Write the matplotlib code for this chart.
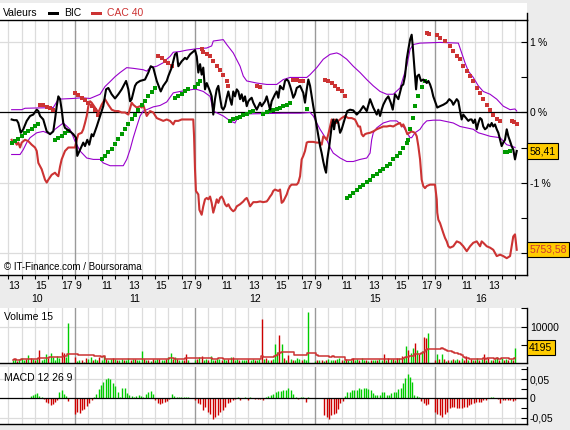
import numpy as np
import matplotlib
matplotlib.use("Agg")
import matplotlib.pyplot as plt
import matplotlib.transforms as mtrans
from matplotlib.patches import Rectangle
from matplotlib.lines import Line2D

plt.rcParams['font.family'] = ['Liberation Sans', 'DejaVu Sans']

# ---------------- data ----------------
# time axis unit: hours; t = day_index*9 + (hour - 9)
day_names = ["10", "11", "12", "15", "16"]

bic_points = [(4.25,-0.10),(4.43,-0.11),(4.63,-0.11),(4.75,-0.15),(4.93,-0.29),(5.12,-0.24),(5.38,-0.12),(5.63,-0.05),(5.87,-0.03),(6.13,0.04),
 (6.25,0.02),(6.38,-0.05),(6.62,-0.10),(6.88,-0.27),(7.13,-0.31),(7.37,-0.27),(7.5,-0.10),(7.63,0.09),(7.75,0.23),(7.88,0.19),
 (8.0,0.04),(8.12,-0.15),(8.25,-0.22),(8.63,-0.27),(8.87,-0.31),(9.07,-0.36),(9.17,-0.62),(9.38,-0.53),(9.5,-0.48),(9.62,-0.43),
 (9.75,-0.48),(9.92,-0.39),(10.07,-0.46),(10.25,-0.31),(10.37,-0.34),(10.63,-0.20),(10.88,-0.05),(11.12,0.09),(11.33,0.33),(11.5,0.35),
 (11.75,0.26),(12.0,0.20),(12.25,0.26),(12.5,0.33),(12.83,0.45),(13.0,0.33),(13.13,0.16),(13.25,0.19),(13.37,0.28),(13.5,0.38),
 (13.63,0.42),(13.88,0.45),(14.25,0.47),(14.5,0.57),(14.68,0.66),(14.87,0.64),(15.13,0.45),(15.43,0.30),(15.62,0.38),(15.88,0.45),
 (16.0,0.52),(16.25,0.64),(16.5,0.83),(16.63,0.85),(16.75,0.66),(17.0,0.73),(17.25,0.78),(17.38,0.76),(17.63,0.83),(18.0,0.89),
 (18.13,0.80),(18.25,0.57),(18.38,0.69),(18.5,0.54),(18.62,0.64),(18.75,0.33),(18.88,0.42),(19.13,0.30),(19.25,0.23),(19.37,-0.03),
 (19.5,0.19),(19.63,0.33),(19.75,0.38),(19.88,0.21),(20.0,0.07),(20.12,0.04),(20.25,0.09),(20.38,0.21),(20.5,0.30),(20.63,0.19),
 (20.75,0.11),(20.87,0.30),(21.0,0.23),(21.13,0.33),(21.25,0.30),(21.38,0.19),(21.5,0.26),(21.62,0.16),(21.75,0.23),(21.88,0.09),
 (22.0,0.16),(22.13,0.19),(22.25,0.21),(22.37,0.14),(22.63,0.04),(22.88,0.14),(23.0,0.09),(23.25,0.16),(23.38,0.23),(23.5,0.14),
 (23.63,0.04),(23.75,0.16),(24.0,0.26),(24.13,0.30),(24.25,0.21),(24.38,0.38),(24.5,0.35),(24.62,0.33),(24.75,0.45),(24.88,0.47),
 (25.0,0.45),(25.13,0.38),(25.25,0.30),(25.37,0.21),(25.5,0.26),(25.63,0.35),(25.88,0.38),(26.12,0.28),(26.25,0.14),(26.38,0.33),
 (26.5,0.47),(26.63,0.38),(26.75,0.23),(26.87,0.09),(27.0,-0.05),(27.13,-0.20),(27.25,-0.34),(27.38,-0.48),(27.5,-0.58),(27.62,-0.70),
 (27.75,-0.81),(27.83,-0.86),(27.92,-0.67),(28.07,-0.48),(28.25,-0.20),(28.37,-0.10),(28.43,-0.24),(28.5,-0.15),(28.63,-0.10),(28.75,-0.15),
 (28.88,-0.29),(29.0,-0.24),(29.25,-0.08),(29.42,0.02),(29.63,0.04),(29.87,0.03),(30.13,-0.03),(30.38,0.02),(30.62,0.09),(30.88,0.02),
 (31.13,0.19),(31.37,0.07),(31.63,-0.03),(31.75,0.04),(31.88,-0.05),(32.0,0.04),(32.12,0.11),(32.33,0.19),(32.5,0.23),(32.68,0.14),
 (32.83,0.04),(33.0,0.26),(33.25,0.19),(33.5,0.38),(33.62,0.40),(33.75,0.52),(33.88,0.76),(34.0,0.90),(34.13,1.04),(34.25,1.11),
 (34.33,0.95),(34.45,0.66),(34.58,0.33),(34.67,0.52),(34.8,0.54),(34.95,0.45),(35.12,0.47),(35.25,0.45),(35.38,0.42),(35.5,0.45),
 (35.63,0.40),(35.75,0.33),(35.87,0.23),(36.0,0.16),(36.17,0.07),(36.38,0.09),(36.62,0.11),(36.88,0.14),(37.07,0.19),(37.25,0.16),
 (37.37,0.11),(37.63,0.19),(37.75,0.16),(37.88,0.02),(38.0,-0.10),(38.12,-0.03),(38.33,-0.08),(38.5,-0.12),(38.63,-0.10),(38.75,-0.10),
 (38.87,-0.15),(39.0,-0.10),(39.13,-0.24),(39.25,-0.15),(39.38,-0.08),(39.5,-0.10),(39.62,-0.20),(39.75,-0.24),(39.88,-0.22),(40.0,-0.17),
 (40.13,-0.20),(40.25,-0.15),(40.37,-0.20),(40.5,-0.17),(40.63,-0.24),(40.75,-0.29),(40.88,-0.39),(41.0,-0.48),(41.12,-0.43),(41.25,-0.39),
 (41.38,-0.24),(41.5,-0.34),(41.63,-0.41),(41.75,-0.48),(41.87,-0.53),(42.0,-0.67),(42.13,-0.55)]

cac_points = [(4.25,-0.39),(4.37,-0.43),(4.5,-0.41),(4.63,-0.46),(4.75,-0.43),(4.88,-0.50),(5.0,-0.43),(5.25,-0.39),(5.5,-0.41),(5.75,-0.46),
 (6.0,-0.50),(6.13,-0.55),(6.25,-0.72),(6.5,-0.81),(6.75,-0.96),(6.88,-1.00),(7.0,-0.96),(7.25,-0.89),(7.5,-0.86),(7.63,-0.89),
 (7.75,-0.91),(7.88,-0.77),(8.0,-0.67),(8.25,-0.55),(8.5,-0.50),(9.0,-0.50),(9.13,-0.39),(9.25,-0.31),(9.5,-0.29),(9.62,-0.24),
 (9.75,-0.15),(9.88,-0.05),(10.0,0.09),(10.13,0.16),(10.25,0.14),(10.5,0.07),(10.75,0.00),(11.0,0.11),(11.25,0.19),(11.5,0.11),
 (11.75,0.04),(12.0,0.02),(12.25,0.02),(12.5,0.00),(12.75,0.00),(13.0,-0.03),(13.25,0.14),(13.37,0.11),(13.63,0.07),(13.88,0.09),
 (14.0,0.07),(14.12,0.11),(14.38,-0.05),(14.63,0.02),(14.87,0.00),(15.13,-0.08),(15.38,-0.10),(15.62,-0.12),(15.88,-0.10),(16.13,-0.12),
 (16.37,-0.17),(16.5,-0.12),(16.75,-0.12),(17.0,-0.10),(17.5,-0.10),(17.87,-0.10),(17.93,-0.34),(18.0,-0.81),(18.07,-1.12),(18.25,-1.17),
 (18.33,-1.39),(18.5,-1.46),(18.62,-1.34),(18.75,-1.24),(18.88,-1.22),(19.0,-1.24),(19.13,-1.20),(19.25,-1.29),(19.37,-1.43),(19.5,-1.34),
 (19.63,-1.24),(19.75,-1.29),(19.88,-1.22),(20.0,-1.20),(20.12,-1.24),(20.25,-1.31),(20.38,-1.34),(20.5,-1.31),(20.63,-1.36),(20.75,-1.39),
 (20.87,-1.41),(21.0,-1.39),(21.13,-1.34),(21.38,-1.31),(21.62,-1.27),(21.75,-1.24),(21.88,-1.22),(22.0,-1.27),(22.13,-1.34),(22.25,-1.31),
 (22.37,-1.28),(22.63,-1.28),(22.88,-1.27),(23.12,-1.28),(23.38,-1.27),(23.5,-1.24),(23.63,-1.20),(23.75,-1.17),(23.87,-1.12),(24.0,-1.10),
 (24.25,-1.12),(24.38,-1.10),(24.5,-1.29),(24.62,-1.27),(24.75,-1.22),(24.88,-1.17),(25.0,-1.10),(25.13,-1.05),(25.25,-1.03),(25.63,-1.03),
 (25.75,-1.00),(25.88,-0.91),(26.0,-0.67),(26.12,-0.62),(26.25,-0.55),(26.38,-0.43),(26.5,-0.42),(26.87,-0.42),(27.13,-0.43),(27.38,-0.43),
 (27.5,-0.46),(27.62,-0.34),(27.75,-0.36),(27.88,-0.39),(28.0,-0.31),(28.13,-0.20),(28.25,-0.10),(28.37,-0.15),(28.5,-0.10),(28.63,-0.15),
 (28.75,-0.12),(28.88,-0.10),(29.0,-0.08),(29.25,-0.05),(29.5,-0.08),(29.75,-0.08),(30.0,-0.10),(30.13,-0.15),(30.25,-0.20),(30.38,-0.20),
 (30.5,-0.31),(30.62,-0.34),(30.75,-0.31),(30.88,-0.30),(31.13,-0.29),(31.37,-0.27),(31.63,-0.24),(31.88,-0.22),(32.12,-0.20),(32.38,-0.20),
 (32.63,-0.19),(32.87,-0.20),(33.13,-0.17),(33.38,-0.15),(33.5,-0.20),(33.62,-0.17),(33.75,-0.22),(33.92,-0.31),(34.07,-0.29),(34.25,-0.27),
 (34.5,-0.29),(34.63,-0.34),(34.75,-0.48),(34.88,-0.67),(35.0,-0.96),(35.12,-1.05),(35.25,-1.08),(35.38,-1.05),(35.63,-1.03),(36.0,-1.03),
 (36.13,-1.24),(36.17,-1.43),(36.25,-1.53),(36.38,-1.58),(36.5,-1.65),(36.62,-1.72),(36.75,-1.79),(36.88,-1.84),(37.0,-1.91),(37.13,-1.93),
 (37.37,-1.91),(37.63,-1.84),(37.88,-1.86),(38.12,-1.91),(38.38,-1.98),(38.63,-1.91),(38.87,-1.86),(39.13,-1.84),(39.38,-1.91),(39.5,-1.84),
 (39.62,-1.86),(39.88,-1.91),(40.13,-1.93),(40.37,-1.96),(40.63,-2.05),(40.88,-2.03),(41.12,-2.05),(41.38,-2.08),(41.63,-2.05),(41.75,-1.91),
 (41.87,-1.77),(42.0,-1.74),(42.13,-1.96)]

band_upper = [(4.25,0.04),(5.0,0.04),(5.25,0.06),(7.37,0.07),(7.75,0.19),(8.87,0.20),(9.5,0.21),(10.13,0.20),(10.88,0.26),(11.25,0.37),
 (11.63,0.44),(12.0,0.51),(12.38,0.57),(12.88,0.64),(13.37,0.63),(14.12,0.61),(14.38,0.59),(14.63,0.64),(15.13,0.66),(15.62,0.71),
 (15.88,0.76),(16.13,0.80),(16.37,0.86),(16.88,0.87),(17.38,0.89),(18.13,0.91),(18.88,0.92),(19.25,0.95),(19.37,1.02),(19.75,1.03),
 (20.12,1.04),(20.38,0.97),(20.87,0.85),(21.38,0.66),(21.62,0.52),(21.88,0.45),(22.63,0.42),(23.38,0.40),(24.13,0.40),(24.62,0.47),
 (25.13,0.50),(26.38,0.50),(26.63,0.54),(27.13,0.64),(27.62,0.76),(28.13,0.83),(28.63,0.85),(28.88,0.83),(29.38,0.76),(29.87,0.66),
 (30.38,0.57),(30.88,0.47),(31.37,0.38),(31.88,0.30),(32.38,0.26),(32.87,0.26),(33.38,0.35),(33.88,0.66),(34.13,0.90),(34.37,0.97),
 (34.88,0.99),(36.38,1.00),(37.75,0.99),(38.0,0.85),(38.25,0.71),(38.5,0.59),(38.87,0.50),(39.25,0.38),(39.62,0.30),(40.13,0.26),
 (40.63,0.19),(41.12,0.09),(41.63,0.04),(42.0,0.05),(42.13,0.02)]

band_lower = [(4.25,-0.60),(4.88,-0.60),(5.12,-0.53),(5.38,-0.43),(5.63,-0.36),(6.13,-0.29),(6.62,-0.27),(7.13,-0.31),(7.5,-0.24),(8.12,-0.15),
 (8.63,-0.24),(9.0,-0.41),(9.38,-0.55),(9.88,-0.65),(10.37,-0.67),(10.88,-0.67),(11.12,-0.72),(11.63,-0.76),(12.62,-0.76),(12.88,-0.67),
 (13.13,-0.53),(13.37,-0.36),(13.63,-0.20),(13.88,-0.05),(14.12,0.02),(14.38,0.04),(14.87,0.08),(15.38,0.10),(15.88,0.15),(16.37,0.28),
 (16.88,0.30),(17.87,0.33),(18.13,0.33),(18.62,0.30),(19.13,0.23),(19.37,0.02),(20.12,-0.05),(20.63,-0.12),(21.0,-0.15),(21.13,-0.10),
 (21.62,-0.03),(22.13,-0.02),(24.62,-0.01),(25.88,-0.01),(26.63,0.00),(26.87,-0.05),(27.13,-0.15),(27.38,-0.24),(27.88,-0.39),(28.13,-0.50),
 (28.37,-0.58),(28.88,-0.65),(29.38,-0.70),(29.87,-0.70),(30.38,-0.67),(30.88,-0.65),(31.13,-0.58),(31.25,-0.39),(31.37,-0.29),(31.63,-0.22),
 (32.12,-0.15),(32.63,-0.12),(33.13,-0.12),(33.62,-0.20),(34.13,-0.36),(34.25,-0.36),(34.5,-0.29),(34.88,-0.24),(35.12,-0.17),(35.38,-0.12),
 (35.87,-0.11),(36.38,-0.11),(37.37,-0.15),(37.88,-0.20),(38.38,-0.22),(38.87,-0.24),(39.25,-0.29),(39.62,-0.31),(40.13,-0.34),(40.88,-0.36),
 (41.38,-0.46),(41.75,-0.48),(42.0,-0.50)]

sar_up = [(4.25,-0.44),(4.5,-0.41),(4.75,-0.38),(5.0,-0.34),(5.25,-0.30),(5.5,-0.27),(5.75,-0.24),(6.0,-0.20),(6.25,-0.16),
 (7.5,-0.39),(7.75,-0.36),(8.0,-0.33),(8.25,-0.29),(8.5,-0.27),
 (11.0,-0.66),(11.25,-0.62),(11.5,-0.57),(11.75,-0.52),(12.0,-0.45),(12.25,-0.38),(12.5,-0.31),(12.75,-0.24),(13.0,-0.16),
 (13.25,-0.09),(13.5,-0.03),(13.75,0.04),(14.0,0.10),(14.25,0.16),(14.5,0.23),(14.75,0.29),(15.0,0.35),
 (16.5,0.21),(16.75,0.24),(17.0,0.27),(17.25,0.30),(17.5,0.33),(18.0,0.37),(18.25,0.41),(18.38,0.45),
 (20.63,-0.12),(20.88,-0.10),(21.13,-0.08),(21.38,-0.06),(21.63,-0.04),(21.88,-0.02),(22.13,0.00),(22.38,0.02),
 (23.13,-0.02),(23.38,0.00),(23.63,0.02),(23.88,0.04),(24.13,0.05),(24.38,0.07),(24.63,0.09),(24.88,0.11),(25.13,0.14),
 (26.38,0.05),
 (29.38,-1.22),(29.63,-1.19),(29.88,-1.15),(30.13,-1.11),(30.38,-1.07),(30.63,-1.03),(30.88,-0.99),(31.13,-0.96),(31.38,-0.91),
 (31.63,-0.88),(31.88,-0.84),(32.13,-0.81),(32.38,-0.77),(32.63,-0.73),(32.88,-0.67),(33.13,-0.62),(33.38,-0.58),(33.63,-0.50),
 (33.88,-0.43),(34.0,-0.39),(34.13,-0.24),(34.37,-0.08),(34.5,0.09),(34.75,0.23),(35.05,0.36),(35.25,0.45),
 (41.25,-0.57),(41.43,-0.56),(41.63,-0.55)]

sar_down = [(6.38,0.11),(6.63,0.10),(6.88,0.08),(7.13,0.07),(7.38,0.04),
 (9.0,0.28),(9.25,0.25),(9.5,0.21),(9.75,0.18),(10.0,0.14),(10.25,0.09),(10.5,0.04),(10.75,-0.03),
 (15.25,0.81),(15.5,0.78),(15.75,0.74),(16.0,0.71),(16.25,0.66),
 (18.5,0.90),(18.63,0.87),(18.88,0.84),(19.13,0.80),(19.38,0.73),(19.63,0.66),(19.88,0.61),(20.13,0.54),(20.38,0.45),(20.5,0.38),
 (22.63,0.38),(22.88,0.36),
 (25.38,0.47),(25.63,0.46),(25.88,0.45),(26.13,0.45),
 (27.75,0.47),(28.0,0.45),(28.25,0.42),(28.5,0.38),(28.75,0.34),(29.0,0.30),(29.25,0.23),
 (35.38,1.14),(35.57,1.12),
 (36.13,1.10),(36.38,1.07),(36.75,1.02),(37.13,0.95),(37.37,0.88),(37.63,0.80),(37.88,0.76),(38.12,0.66),(38.38,0.59),
 (38.63,0.52),(38.87,0.45),(39.13,0.35),(39.38,0.28),(39.62,0.19),(39.88,0.11),(40.13,0.04),(40.37,-0.03),(40.63,-0.10),(40.88,-0.12),
 (41.75,-0.12),(41.93,-0.14),(42.13,-0.17)]

# volume bars per day (10-minute bars), colours g = up, r = down
vol_d10 = [900,1200,600,1100,1500,800,1000,2100,1500,1000,900,1200,3500,900,1000,2400,1400,2800,1700,900,1900,1300,3100,2800,1600,11100]
col_d10 = "ggrgggrgrgrgrgggrgggggrrgg"
vol_d11 = [1700,600,700,900,300,1500,1200,1700,900,1200,700,1700,900,1800,1200,900,1000,1500,1200,900,
           700,1200,900,930,1500,700,1100,1200,900,930,3200,1200,900,930,560,1200,930,1000,1200,930,
           740,1200,1700,2800,1200,1700,1200,930,930,740,2400,930]
col_d11 = "rggrgrggrggrggrggrgrggrggrgrgggrgrgrggrggrggrgrggrrg"
vol_d12 = [740,1200,1670,1850,930,1200,930,1850,930,930,1200,1200,930,1200,740,1200,1670,1670,930,1200,
           740,930,930,740,1200,740,1200,740,930,1200,12100,1200,1480,930,930,1200,5190,3060,7690,5090,
           1480,930,2130,1200,930,740,1390,1200,930,1200,740,14000]
col_d12 = "grgrggrggrggrggrgrggrgggrggrggrgrgrgggrgrgrgrgggrggg"
vol_d15 = [600,800,700,900,600,930,1200,740,930,740,1000,1480,740,930,1200,740,930,1480,930,1200,
           930,1480,930,740,560,930,740,930,740,1200,930,2410,930,1480,1200,1200,930,1480,1480,1850,
           1480,4630,3700,2780,4170,5560,3520,2590,3330,7220,6950,8330]
col_d15 = "grgrgrgggrggrgrggrggrggrgrggrggrgrgrgrgrggrggrgrgrrg"
vol_d16 = [740,2590,1200,2590,1200,560,740,930,1200,930,1200,930,1480,930,1850,930,1200,930,930,1480,
           930,1200,2590,930,1480,930,930,1200,1670,930,1480,930,1200,930,1200,930,4195]
col_d16 = "rgrgrgrgrggrgrrgrgrgrgrgrgrggrgrgrgrg"

# MACD histogram per day
macd_d10 = [0,0,0,0,0,0,0,0,0.006,0.009,0.011,0.013,0.007,0.003,-0.002,-0.009,-0.013,-0.016,-0.015,-0.009,
            -0.004,0.017,0.022,0.011,0.005,-0.006]
macd_d11 = [-0.039,-0.034,-0.037,-0.030,-0.028,-0.020,-0.011,-0.004,0.003,0.011,0.023,0.034,0.043,0.049,0.052,0.049,
            0.041,0.032,0.017,0.004,0.026,0.028,0.013,0.009,0.006,0.004,0.007,0.009,0.006,0.004,0.011,0.017,0.019,
            0.011,-0.003,-0.013,-0.015,-0.013,-0.009,-0.006,-0.002,0.011,0.006,0.004,0.004,0.004,0.004,0.003,0.004]
macd_d12 = [-0.004,-0.011,-0.015,-0.030,-0.022,-0.034,-0.039,-0.052,-0.047,-0.043,-0.034,-0.030,-0.022,-0.013,-0.009,
            -0.003,-0.002,0.003,-0.003,0.000,0.003,-0.003,0.003,0.002,-0.001,-0.002,-0.002,-0.003,0.004,0.006,0.009,
            0.011,0.017,0.019,0.020,0.022,0.022,0.026,0.022,0.011,0.003,-0.002,0.003,0.003,-0.009,0.003]
macd_d15 = [0,0,0,0,-0.043,-0.049,-0.054,-0.043,-0.039,-0.037,-0.028,-0.013,-0.006,0.006,0.017,0.017,0.022,0.022,
            0.022,0.026,0.023,0.026,0.026,0.023,0.022,0.013,0.009,0.009,0.009,0.017,0.017,0.009,0.009,0.013,0.017,
            0.017,0.023,0.028,0.041,0.052,0.063,0.054,0.043,0.009,0.007,0.004,-0.006,-0.013,-0.017,-0.015]
macd_d16 = [-0.034,-0.039,-0.043,-0.047,-0.039,-0.034,-0.026,-0.022,-0.022,-0.026,-0.026,-0.026,-0.022,-0.022,
            -0.017,-0.015,-0.013,-0.009,-0.009,-0.010,-0.003,-0.004,0.000,0.004,0.004,0.000,-0.002,-0.011,-0.003,
            -0.003,-0.003,-0.003,-0.006,-0.003]

# trading session (start hour, end hour) for each day's bars
day_sessions = [(13 + 20/60, 17.5), (9, 17.5), (9, 17.5), (9, 17.5), (9, 15.0)]

last_bic_label = "58,41"
last_cac_label = "5753,58"
last_vol_label = "4195"

# ---------------- layout ----------------
W, H = 570, 430
BG = '#ececec'
GRID = '#dcdcdc'
SEP = '#9a9a9a'
RED = '#cc3333'
PURPLE = '#9900cc'
GREEN_SAR = '#009900'
VGREEN = '#00cc00'
VRED = '#cc0000'
BOX = '#ffcc00'
FS = 7.5

XMIN, XMAX = 3.375, 42.9

fig = plt.figure(figsize=(W / 100, H / 100), dpi=100, facecolor=BG)

def fx(px):
    return px / W

def fy(py):
    return 1 - py / H

RIGHT = 527
ax = fig.add_axes([0, fy(275), fx(RIGHT), (275 - 20) / H])
axv = fig.add_axes([0, fy(363), fx(RIGHT), (363 - 308) / H])
axm = fig.add_axes([0, fy(424), fx(RIGHT), (424 - 367) / H])

# header white strip and spine stub
fig.add_artist(Rectangle((0, fy(20)), fx(RIGHT), (20 - 3) / H, transform=fig.transFigure,
                         facecolor='white', edgecolor='none', zorder=-1))
fig.add_artist(Line2D([fx(RIGHT) - 0.5 / W, fx(RIGHT) - 0.5 / W], [fy(13), fy(20)], transform=fig.transFigure,
                      color='black', lw=1.0))

hour_ticks = []
hour_vals = []
for d in range(len(day_names)):
    for h in range(9, 18):
        t = d * 9 + (h - 9)
        if XMIN <= t <= XMAX:
            hour_ticks.append(t)
            hour_vals.append(h)
separators = [d * 9 for d in range(1, len(day_names))]

for a in (ax, axv, axm):
    a.set_facecolor('white')
    a.set_xlim(XMIN, XMAX)
    for t in hour_ticks:
        if t in separators:
            a.axvline(t, color=SEP, lw=1.0, zorder=0.5)
        else:
            a.axvline(t, color=GRID, lw=0.9, zorder=0.3)
    a.spines['left'].set_visible(False)
    a.spines['right'].set_linewidth(1.0)
    a.spines['bottom'].set_linewidth(1.0)
    a.yaxis.tick_right()
    a.tick_params(axis='y', which='both', direction='in', length=4, width=0.8,
                  labelsize=FS, pad=2, colors='black')

axv.spines['top'].set_visible(False)
axm.spines['top'].set_visible(False)
ax.spines['top'].set_linewidth(1.0)

# ---------- main panel ----------
ax.set_ylim(-2.32, 1.32)
for yv in (1, -1, -2):
    ax.axhline(yv, color=GRID, lw=0.9, zorder=0.3)
ax.axhline(0, color='black', lw=0.9, zorder=1)

ut, uv = zip(*band_upper)
lt, lv = zip(*band_lower)
ax.plot(ut, uv, color=PURPLE, lw=0.8, zorder=2)
ax.plot(lt, lv, color=PURPLE, lw=0.8, zorder=2)

ct, cv = zip(*cac_points)
ax.plot(ct, cv, color=RED, lw=1.5, zorder=3)
bt, bv = zip(*bic_points)
ax.plot(bt, bv, color='black', lw=1.5, zorder=4)

st, sv = zip(*sar_up)
ax.plot(st, sv, ls='none', marker='s', ms=2.6, mew=0, color=GREEN_SAR, zorder=3.5)
st, sv = zip(*sar_down)
ax.plot(st, sv, ls='none', marker='s', ms=2.6, mew=0, color=RED, zorder=3.5)

ax.set_yticks([-2, -1, 0, 1])
ax.set_yticklabels(['', '-1\u2009%', '0\u2009%', '1\u2009%'])
ax.set_yticks([-1.5, -0.5, 0.5], minor=True)

ax.set_xticks(hour_ticks)
ax.set_xticklabels([str(h) if (h % 2 == 1 and t <= 41) else '' for t, h in zip(hour_ticks, hour_vals)],
                   ha='left')
ax.tick_params(axis='x', direction='out', length=3, width=0.8, labelsize=FS, pad=1.5)

trans_main = mtrans.blended_transform_factory(ax.transAxes, ax.transData)
ax.text(1.004, bv[-1], last_bic_label, transform=trans_main, ha='left', va='center', fontsize=FS,
        color='black', bbox=dict(boxstyle='square,pad=0.25', fc=BOX, ec='black', lw=0.8), zorder=10, clip_on=False)
ax.text(1.004, cv[-1], last_cac_label, transform=trans_main, ha='left', va='center', fontsize=FS,
        color=RED, bbox=dict(boxstyle='square,pad=0.25', fc=BOX, ec='black', lw=0.8), zorder=10, clip_on=False)

# day labels
trans_day = mtrans.blended_transform_factory(ax.transData, ax.transAxes)
for d, name in enumerate(day_names):
    lo = max(XMIN, d * 9)
    hi = min(XMAX, d * 9 + 9)
    ax.text((lo + hi) / 2, -0.094, name, transform=trans_day, ha='center', va='center', fontsize=FS)

ax.text(0.008, 0.03, '\u00a9 IT-Finance.com / Boursorama', transform=ax.transAxes, fontsize=FS - 0.5,
        ha='left', va='center', zorder=6)

# header legend
fig.text(fx(3), fy(13), 'Valeurs', fontsize=FS, ha='left', va='center')
fig.add_artist(Rectangle((fx(48), fy(15)), fx(11), 3.5 / H, transform=fig.transFigure,
                         facecolor='black', edgecolor='none'))
fig.text(fx(64), fy(13), 'BIC', fontsize=FS, ha='left', va='center')
fig.add_artist(Rectangle((fx(91), fy(15)), fx(11), 3.5 / H, transform=fig.transFigure,
                         facecolor=RED, edgecolor='none'))
fig.text(fx(107), fy(13), 'CAC 40', fontsize=FS, ha='left', va='center', color=RED)

# ---------- volume panel ----------
vols_t, vols_v, vols_c = [], [], []
vol_days = [vol_d10, vol_d11, vol_d12, vol_d15, vol_d16]
col_days = [col_d10, col_d11, col_d12, col_d15, col_d16]
for d, (vals, cols) in enumerate(zip(vol_days, col_days)):
    s, e = day_sessions[d]
    tt = d * 9 + np.linspace(s, e, len(vals)) - 9
    vols_t.extend(tt)
    vols_v.extend(vals)
    vols_c.extend([VGREEN if cols[i % len(cols)] == 'g' else VRED for i in range(len(vals))])
vols_t = np.array(vols_t)
vols_v = np.array(vols_v, dtype=float)
axv.vlines(vols_t, 0, vols_v, colors=vols_c, lw=1.0, zorder=2)
ma = np.array([vols_v[max(0, i - 14):i + 1].mean() for i in range(len(vols_v))])
axv.plot(vols_t, ma, color=RED, lw=1.1, drawstyle='steps-mid', zorder=3)
axv.set_ylim(0, 15100)
axv.axhline(10000, color=GRID, lw=0.9, zorder=0.3)
axv.set_yticks([10000])
axv.set_yticklabels(['10000'])
axv.set_yticks([5000, 15000], minor=True)
axv.set_xticks([])
axv.text(0.008, 0.84, 'Volume 15', transform=axv.transAxes, fontsize=FS, ha='left', va='center')
trans_v = mtrans.blended_transform_factory(axv.transAxes, axv.transData)
axv.text(1.004, vols_v[-1], last_vol_label, transform=trans_v, ha='left', va='center', fontsize=FS,
         bbox=dict(boxstyle='square,pad=0.25', fc=BOX, ec='black', lw=0.8), zorder=10, clip_on=False)

# ---------- MACD panel ----------
macd_days = [macd_d10, macd_d11, macd_d12, macd_d15, macd_d16]
mt, mv = [], []
for d, vals in enumerate(macd_days):
    s, e = day_sessions[d]
    tt = d * 9 + np.linspace(s, e, len(vals)) - 9
    mt.extend(tt)
    mv.extend(vals)
mt = np.array(mt)
mv = np.array(mv)
axm.vlines(mt, 0, mv, colors=[VGREEN if v >= 0 else VRED for v in mv], lw=1.0, zorder=2)
axm.set_ylim(-0.066, 0.081)
axm.axhline(0, color='black', lw=0.9, zorder=3)
for yv in (0.05, -0.05):
    axm.axhline(yv, color=GRID, lw=0.9, zorder=0.3)
axm.set_yticks([-0.05, 0, 0.05])
axm.set_yticklabels(['-0,05', '0', '0,05'])
axm.set_yticks([-0.025, 0.025, 0.075], minor=True)
axm.set_xticks([])
axm.text(0.008, 0.80, 'MACD 12 26 9', transform=axm.transAxes, fontsize=FS, ha='left', va='center')

fig.savefig('out.png', dpi=100, facecolor=BG)
